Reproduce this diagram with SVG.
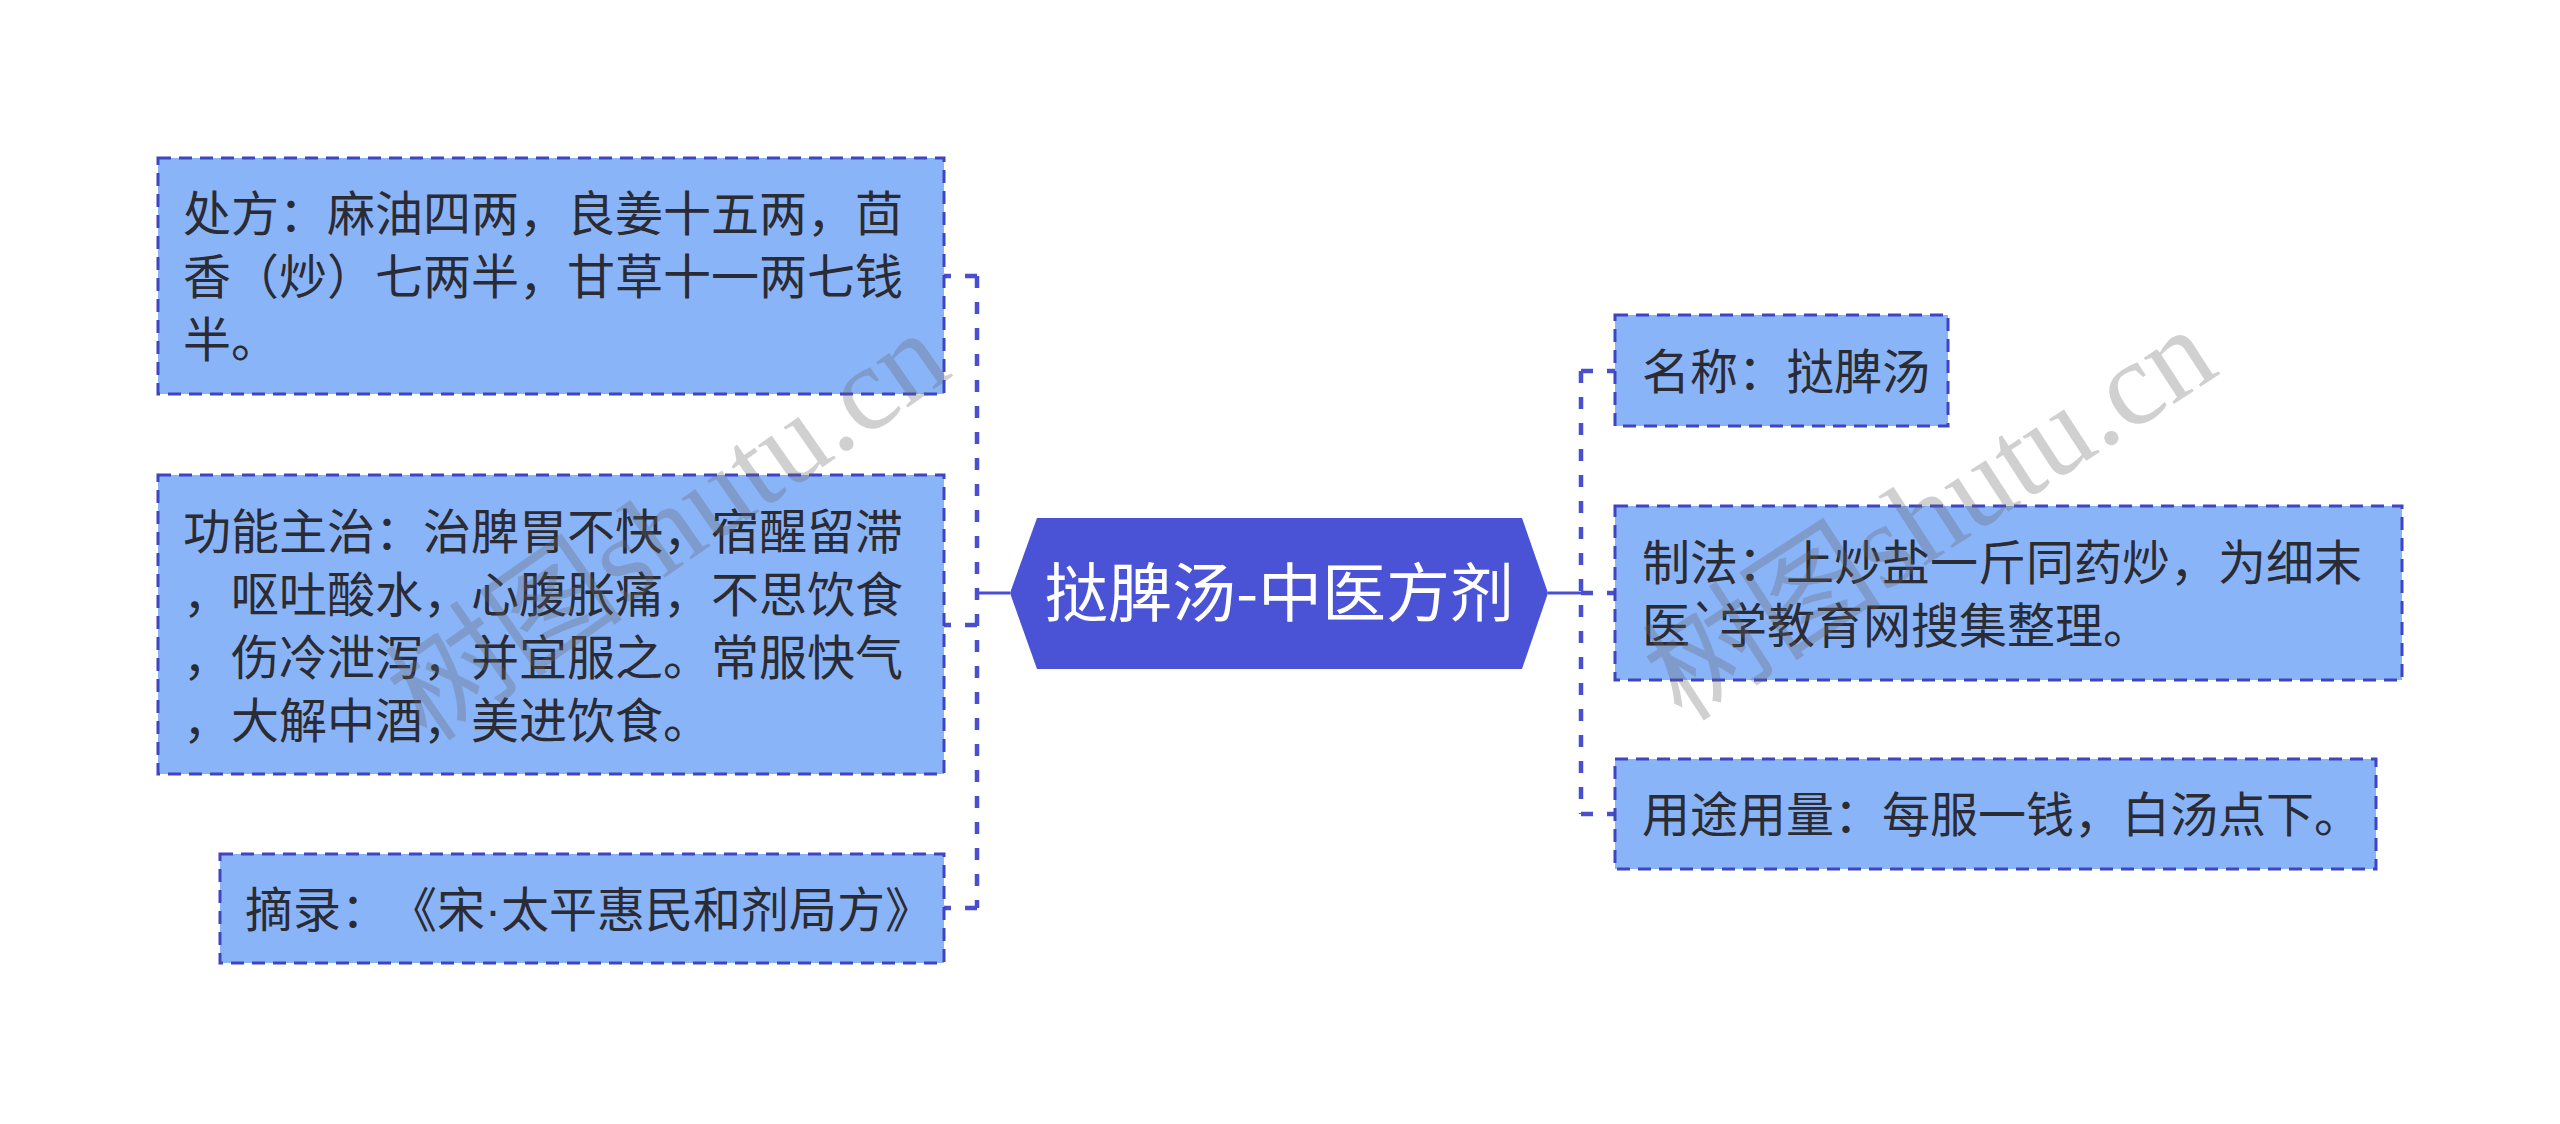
<svg xmlns="http://www.w3.org/2000/svg" width="2560" height="1124" viewBox="0 0 2560 1124">
<style>
.box{fill:#8AB4F8;stroke:#3E44C2;stroke-width:3;stroke-dasharray:13 8}
.t{font-family:"Noto Sans CJK SC","Noto Sans",sans-serif;font-size:48px;fill:#2B2B33;text-spacing-trim:space-all}
.title{font-family:"Noto Sans CJK SC","Noto Sans",sans-serif;font-size:64px;fill:#FFFFFF}
.dash{fill:none;stroke:#4A4FD0;stroke-width:4.5;stroke-dasharray:12 14}
.solid{fill:none;stroke:#4A4FD0;stroke-width:3}
.wm{font-family:"Liberation Serif","Noto Sans CJK SC",serif;font-size:120px;fill:#646464;fill-opacity:0.3}
</style>
<rect width="2560" height="1124" fill="#FFFFFF"/>
<g id="connectors">
<path class="solid" d="M1010 593 H977"/>
<path class="dash" d="M977 276 V908"/>
<path class="dash" d="M977 276 H944 M977 625 H944 M977 908 H944"/>
<path class="solid" d="M1548 593 H1581"/>
<path class="dash" d="M1581 371 V814"/>
<path class="dash" d="M1581 371 H1615 M1581 593 H1615 M1581 814 H1615"/>
</g>
<g id="center">
<polygon points="1010,593 1037,518 1522,518 1548,593 1522,669 1037,669" fill="#4A52D6"/>
<text class="title" x="1279" y="616" text-anchor="middle">挞脾汤-中医方剂</text>
</g>
<g id="node-chufang">
<rect class="box" x="158" y="158" width="786" height="236"/>
<text class="t" x="183" y="231">处方：麻油四两，良姜十五两，茴</text>
<text class="t" x="183" y="294">香（炒）七两半，甘草十一两七钱</text>
<text class="t" x="183" y="357">半。</text>
</g>
<g id="node-gongneng">
<rect class="box" x="158" y="475" width="786" height="299"/>
<text class="t" x="183" y="549">功能主治：治脾胃不快，宿醒留滞</text>
<text class="t" x="183" y="612">，呕吐酸水，心腹胀痛，不思饮食</text>
<text class="t" x="183" y="675">，伤冷泄泻，并宜服之。常服快气</text>
<text class="t" x="183" y="738">，大解中酒，美进饮食。</text>
</g>
<g id="node-zhailu">
<rect class="box" x="220" y="854" width="724" height="109"/>
<text class="t" x="245" y="927">摘录：<tspan x="389">《宋</tspan><tspan font-family="Liberation Sans">·</tspan>太平惠民和剂局方》</text>
</g>
<g id="node-mingcheng">
<rect class="box" x="1615" y="315" width="333" height="111"/>
<text class="t" x="1642" y="389">名称：挞脾汤</text>
</g>
<g id="node-zhifa">
<rect class="box" x="1615" y="506" width="787" height="174"/>
<text class="t" x="1642" y="580">制法：上炒盐一斤同药炒，为细末</text>
<text class="t" x="1642" y="643">医`学教育网搜集整理。</text>
</g>
<g id="node-yongtu">
<rect class="box" x="1615" y="759" width="761" height="110"/>
<text class="t" x="1642" y="832">用途用量：每服一钱，白汤点下。</text>
</g>
<g id="watermark">
<text class="wm" transform="translate(668 526) rotate(-35)" text-anchor="middle" dominant-baseline="central">树图shutu.cn</text>
<text class="wm" transform="translate(1930 514) rotate(-33)" text-anchor="middle" dominant-baseline="central">树图shutu.cn</text>
</g>
</svg>
